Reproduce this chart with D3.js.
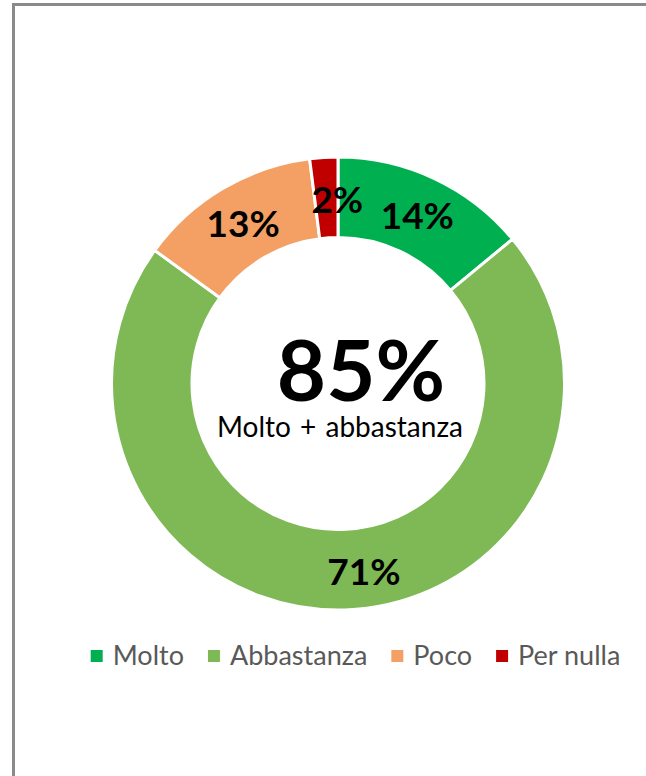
<!DOCTYPE html>
<html>
<head>
<meta charset="utf-8">
<script src="https://cdn.jsdelivr.net/npm/d3@7"></script>
<style>
  html, body { margin: 0; padding: 0; background: #fff; overflow: hidden; }
  svg { display: block; }
</style>
</head>
<body>
<svg id="chart" width="646" height="776"></svg>
<script>
// ---- data ----
const categories = ["Molto", "Abbastanza", "Poco", "Per nulla"];
const values = [14, 71, 13, 2];
const colors = ["#00B050", "#7EB956", "#F4A064", "#C00000"];
const centerValue = "85%";
const centerLabel = "Molto + abbastanza";

// ---- layout ----
const W = 646, H = 776;
const cx = 338, cy = 383.5;
const rOuter = 226.5, rInner = 146;
const labelNudge = [[0, 1], [20, 2], [0, 0], [11, 2]]; // minor label adjustments (px)

const svg = d3.select("#chart");
const FONT = "Lato, 'Open Sans', sans-serif";

// frame (top and left edges visible)
svg.append("path")
  .attr("d", `M13.5,${H + 10} L13.5,4.5 L${W + 10},4.5`)
  .attr("fill", "none").attr("stroke", "#8a8a8a").attr("stroke-width", 3);

const data = categories.map((c, i) => ({ cat: c, value: values[i], color: colors[i], i }));

const pie = d3.pie().value(d => d.value).sort(null);
const arcs = pie(data);
const arc = d3.arc().innerRadius(rInner).outerRadius(rOuter);
const labelArc = d3.arc().innerRadius((rInner + rOuter) / 2).outerRadius((rInner + rOuter) / 2);

const g = svg.append("g").attr("transform", `translate(${cx},${cy})`);

g.selectAll("path.slice")
  .data(arcs)
  .join("path")
  .attr("class", "slice")
  .attr("d", arc)
  .attr("fill", d => d.data.color)
  .attr("stroke", "#fff")
  .attr("stroke-width", 3)
  .attr("stroke-linejoin", "round");

g.selectAll("text.lbl")
  .data(arcs)
  .join("text")
  .attr("class", "lbl")
  .attr("transform", d => {
    const [x, y] = labelArc.centroid(d);
    const n = labelNudge[d.data.i];
    return `translate(${x + n[0]},${y + n[1]})`;
  })
  .attr("text-anchor", "middle")
  .attr("dy", "0.36em")
  .attr("font-family", FONT)
  .attr("font-weight", 700)
  .attr("font-size", 37)
  .attr("fill", "#000")
  .text(d => d.data.value + "%");

// center text
svg.append("text")
  .attr("x", 361).attr("y", 401)
  .attr("text-anchor", "middle")
  .attr("font-family", FONT)
  .attr("font-weight", 700)
  .attr("font-size", 85)
  .attr("fill", "#000")
  .text(centerValue);

svg.append("text")
  .attr("x", 340).attr("y", 437)
  .attr("text-anchor", "middle")
  .attr("font-family", FONT)
  .attr("font-size", 28)
  .attr("word-spacing", 2)
  .attr("fill", "#000")
  .text(centerLabel);

// legend
const legend = svg.append("g");
const items = legend.selectAll("g.item").data(data).join("g").attr("class", "item");
items.append("rect")
  .attr("width", 12).attr("height", 12)
  .attr("y", -6)
  .attr("fill", d => d.color);
items.append("text")
  .attr("x", 22)
  .attr("y", 9)
  .attr("font-family", FONT)
  .attr("font-size", 27)
  .attr("fill", "#595959")
  .text(d => d.cat);

let xpos = 0;
const gapItem = 24;
items.each(function () {
  const t = d3.select(this).select("text").node().getComputedTextLength();
  d3.select(this).attr("transform", `translate(${xpos},0)`);
  xpos += 22 + t + gapItem;
});
const total = xpos - gapItem;
legend.attr("transform", `translate(${355.5 - total / 2},656)`);
</script>
</body>
</html>
